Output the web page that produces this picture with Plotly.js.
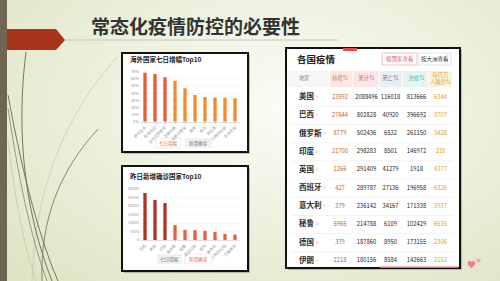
<!DOCTYPE html>
<html><head><meta charset="utf-8">
<script src="https://cdn.plot.ly/plotly-3.0.1.min.js"></script>
<style>
html,body{margin:0;padding:0;overflow:hidden;}
#c{width:500px;height:281px;background:radial-gradient(ellipse 75% 85% at 58% 38%, #fbfcf6 0%, #eef2e0 45%, #dee5c5 100%);}
</style></head><body><div id="c"></div>
<script>
// ---- data ----
const growthCountries = ['萨尔瓦多','危地马拉','吉尔吉斯斯坦','洪都拉斯','哥斯达黎加','南非','埃及','伊拉克','沙特阿拉伯','多米尼加'];
const growthPct = [68.6, 66.8, 62.1, 57.4, 46.8, 37.4, 34.5, 34.0, 33.5, 33.0];
const newCountries = ['巴西','美国','印度','俄罗斯','秘鲁','孟加拉国','智利','墨西哥','沙特阿拉伯','巴基斯坦'];
const newCases = [27644, 23592, 21700, 8779, 5965, 5800, 5400, 4700, 3600, 3200];
const growthTicks = [0,10,20,30,40,50,60,70];
const newTicks = [0,5000,10000,15000,20000,25000,30000];

const regions = ['美国','巴西','俄罗斯','印度','英国','西班牙','意大利','秘鲁','德国','伊朗'];
const tNew = [23592, 27644, 8779, 21700, 1266, 427, 379, 5965, 379, 2218];
const tTotal = [2088496, 802828, 502436, 298283, 291409, 289787, 236142, 214788, 187860, 180156];
const tDeath = [116018, 40920, 6532, 8501, 41279, 27136, 34167, 6109, 8950, 8584];
const tCured = [813666, 396692, 261150, 146972, 1918, 196958, 171338, 102429, 173155, 142663];
const tPerM = [6344, 3707, 3428, 218, 4377, 6326, 3937, 6535, 2306, 2152];
const headers = ['地区','新增⇅','累计⇅','死亡⇅','治愈⇅','每百万<br>人确诊⇅'];

// ---- layout helpers ----
const W=500,H=281;
const X=x=>x/W, Y=y=>1-y/H;
const F='"Noto Sans CJK SC", "Noto Sans", sans-serif';
const colX=[299,340,366.5,390.5,416.5,440.5];           // column anchor positions (px)
const hdrFill=['#f6f6f6','#fce7e2','#f9e5ea','#e9edf6','#e3f4f2','#fdf2dc'];
const hdrFont=['#888','#e07850','#c86a6a','#777','#45b5b0','#e0a530'];
const colEdges=[287,329.5,353,379,402.5,428,452.5];
function path(pts){
  let s='';
  for(const p of pts){ if(typeof p==='string') s+=' '+p+' '; else s+=p[0]/W+','+(1-p[1]/H)+' '; }
  return s.trim();
}
const shapes=[];
function rect(x0,y0,x1,y1,fill,lc,lw,layer){shapes.push({type:'rect',xref:'paper',yref:'paper',x0:X(x0),x1:X(x1),y0:Y(y1),y1:Y(y0),fillcolor:fill,line:{color:lc||'rgba(0,0,0,0)',width:lw||0},layer:layer||'below'});}
function curve(d,color,w){shapes.push({type:'path',xref:'paper',yref:'paper',path:d,line:{color:color,width:w},layer:'below'});}

// left decoration
rect(0,0,7,281,'#6e6650');
shapes.push({type:'path',xref:'paper',yref:'paper',layer:'below',fillcolor:'#a8341a',line:{width:0},
  path:path(['M',[7,29],'L',[56,29],'L',[65,40],'L',[56,50],'L',[7,50],'Z'])});
curve(path(['M',[117,57],'C',[70,110],[35,180],[32,281]]),'#c9cbb4',0.8);
curve(path(['M',[8,140],'C',[15,200],[25,250],[36,281]]),'#c4c5ad',0.8);
curve(path(['M',[26,52],'C',[16,130],[24,210],[52,281]]),'#6e6650',0.9);
curve(path(['M',[8,95],'C',[20,160],[36,230],[58,281]]),'#6e6650',0.9);
curve(path(['M',[8,108],'C',[18,175],[30,235],[47,281]]),'#8a8270',0.8);
curve(path(['M',[98,129],'C',[60,170],[40,220],[42,281]]),'#756b58',0.8);
shapes.push({type:'line',xref:'paper',yref:'paper',x0:X(65),x1:X(338),y0:Y(40),y1:Y(40),line:{color:'#c6cbb3',width:1},layer:'below'});

// boxes
rect(124,55,250,154,'rgba(0,0,0,0.22)');
rect(122,53,248,152,'white','#111',2);
rect(124,168,250,273,'rgba(0,0,0,0.22)');
rect(122,166,248,271,'white','#111',2);
rect(288,50,462,270,'rgba(0,0,0,0.22)');
rect(286,48,460,268,'white','#111',2);
rect(343,48,357,51,'#e84a4a');
// buttons
rect(382,53,417,65,'white','#eab3b3',0.8);
rect(418,53,451,65,'white','#dddddd',0.8);
rect(156,138,181,148,'white','#f3d3d3',0.6);
rect(185,138,212,148,'#f1f1f1');
rect(157,254,182,264,'#f1f1f1');
rect(185,254,212,264,'white','#f3d3d3',0.6);
// table header backgrounds (row 0 of table axis)
for(let i=0;i<6;i++){shapes.push({type:'rect',xref:'x3',yref:'y3',x0:colEdges[i]+0.5,x1:colEdges[i+1]-0.5,y0:-0.45,y1:0.45,fillcolor:hdrFill[i],line:{width:0},layer:'below'});}
// row separators
for(let k=1;k<regions.length;k++){shapes.push({type:'line',xref:'x3',yref:'y3',x0:292,x1:453,y0:k+0.5,y1:k+0.5,line:{color:'#efefef',width:0.8},layer:'below'});}
shapes.push({type:'line',xref:'paper',yref:'paper',x0:X(380),x1:X(458),y0:Y(267),y1:Y(267),line:{color:'#f6a0a8',width:1.5},layer:'above'});

const ann=[];
function txt(t,x,y,size,color,xa,extra){ann.push(Object.assign({text:t,xref:'paper',yref:'paper',x:X(x),y:Y(y),xanchor:xa||'left',yanchor:'middle',showarrow:false,font:{family:F,size:size,color:color}},extra||{}));}
txt('<b>常态化疫情防控的必要性</b>',89,25,19,'#333333');
txt('<b>海外国家七日增幅Top10</b>',128,59,6.5,'#222');
txt('<b>昨日新增确诊国家Top10</b>',128,176,6.5,'#222');
txt('七日增幅',168.5,143,4.5,'#e06464','center');
txt('新增确诊',198.5,143,4.5,'#777','center');
txt('七日增幅',169.5,259,4.5,'#777','center');
txt('新增确诊',198.5,259,4.5,'#e06464','center');
txt('<b>各国疫情</b>',295,59,9.5,'#222');
txt('按国家查看',399.5,59,5.5,'#e05a5a','center');
txt('按大洲查看',434.5,59,5.5,'#333','center');
txt('♥',471,264,9,'#f47c8a','center');
txt('♥',478,259,5,'#f7a0b0','center');

const c1 = growthPct.map((v,i)=> i<3?'#e65b3b':'#f28a2e');
const c2 = newCases.map((v,i)=> i<3?'#a93622':'#e8603e');

const tableCols=[tNew,tTotal,tDeath,tCured,tPerM];
const cellColor=['#c0622a','#222','#222','#222','#dea021'];

const data=[
 {type:'bar',x:growthCountries,y:growthPct,marker:{color:c1},width:0.33,xaxis:'x',yaxis:'y',hoverinfo:'skip'},
 {type:'bar',x:newCountries,y:newCases,marker:{color:c2},width:0.33,xaxis:'x2',yaxis:'y2',hoverinfo:'skip'},
 // header row
 {type:'scatter',mode:'text',xaxis:'x3',yaxis:'y3',x:colX,y:headers.map(()=>'hdr'),text:headers,
  textposition:headers.map((h,i)=>i===0?'middle right':'middle center'),textfont:{family:F,size:5.3,color:hdrFont},hoverinfo:'skip'},
 // region column
 {type:'scatter',mode:'text',xaxis:'x3',yaxis:'y3',x:regions.map(()=>colX[0]),y:regions,
  text:regions.map(r=>'<b>'+r+'</b> <span style="color:#aaaaaa">›</span>'),textposition:'middle right',
  textfont:{family:F,size:7.5,color:'#2a2a2a'},hoverinfo:'skip'}
];
tableCols.forEach((col,i)=>{
  data.push({type:'scatter',mode:'text',xaxis:'x3',yaxis:'y3',x:regions.map(()=>colX[i+1]),y:regions,text:col.map(String),
    textposition:'middle center',textfont:{family:F,size:5.8,color:cellColor[i]},hoverinfo:'skip'});
});

const axY={showline:false,gridcolor:'#eeeeee',gridwidth:0.6,zeroline:false,tickfont:{family:F,size:4,color:'#999'},ticks:'',fixedrange:true};
const axX={showline:true,linecolor:'#ccc',linewidth:0.6,tickangle:-45,tickfont:{family:F,size:3.8,color:'#999'},ticks:'outside',ticklen:1.5,tickcolor:'#ccc',range:[-0.5,9.5]};
const rowCats=['hdr'].concat(regions);
const layout={width:W,height:H,margin:{l:0,r:0,t:0,b:0},paper_bgcolor:'rgba(0,0,0,0)',plot_bgcolor:'rgba(0,0,0,0)',showlegend:false,
 font:{family:F},
 xaxis:Object.assign({},axX,{domain:[X(140),X(240)],anchor:'y'}),
 yaxis:Object.assign({},axY,{domain:[Y(121.7),Y(71.7)],range:[0,70],tickvals:growthTicks,ticktext:growthTicks.map(v=>v+'%'),anchor:'x'}),
 xaxis2:Object.assign({},axX,{domain:[X(140),X(240)],anchor:'y2'}),
 yaxis2:Object.assign({},axY,{domain:[Y(240),Y(189)],range:[0,30000],tickvals:newTicks,ticktext:newTicks.map(String),anchor:'x2'}),
 xaxis3:{domain:[0,1],range:[0,W],visible:false,fixedrange:true,anchor:'y3'},
 yaxis3:{domain:[Y(270),Y(70)],type:'category',categoryarray:rowCats,categoryorder:'array',range:[rowCats.length-0.5,-0.5],visible:false,fixedrange:true,anchor:'x3'},
 shapes:shapes,annotations:ann};
Plotly.newPlot('c',data,layout,{staticPlot:true,displayModeBar:false});
</script></body></html>
